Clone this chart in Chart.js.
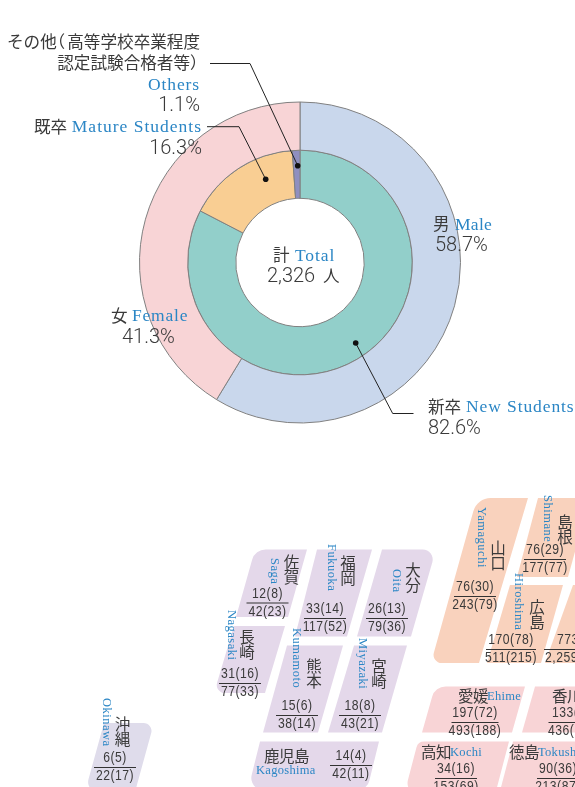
<!DOCTYPE html>
<html>
<head>
<meta charset="utf-8">
<title>入学者</title>
<script src="https://cdn.jsdelivr.net/npm/chart.js@4/dist/chart.umd.js"></script>
<style>
  html, body { margin: 0; padding: 0; background: #fff; }
  canvas { display: block; }
</style>
</head>
<body>
<canvas id="chart" width="575" height="787"></canvas>
<script>
// ドーナツの値 (%)
const genderLabels = ['男 Male', '女 Female'];
const genderValues = [58.7, 41.3];
const courseLabels = ['新卒 New Students', '既卒 Mature Students', 'その他 Others'];
const courseValues = [82.6, 16.3, 1.1];

// 都道府県ごとの値 : 合格者(女) / 受験者(女)
// 画面の外で切れて読めない値は null
const prefNames = ['佐賀', '福岡', '大分', '長崎', '熊本', '宮崎', '鹿児島', '沖縄', '山口', '島根', '広島', '', '愛媛', '香川', '高知', '徳島'];
const prefEnglish = ['Saga', 'Fukuoka', 'Oita', 'Nagasaki', 'Kumamoto', 'Miyazaki', 'Kagoshima', 'Okinawa', 'Yamaguchi', 'Shimane', 'Hiroshima', '', 'Ehime', '', 'Kochi', 'Tokushima'];
const passed = [12, 33, 26, 31, 15, 18, 14, 6, 76, 76, 170, 773, 197, 133, 34, 90];
const passedWomen = [8, 14, 13, 16, 6, 8, 4, 5, 30, 29, 78, null, 72, null, 16, 36];
const applicants = [42, 117, 79, 77, 38, 43, 42, 22, 243, 177, 511, 2259, 493, 436, 153, 213];
const applicantsWomen = [23, 52, 36, 33, 14, 21, 11, 17, 79, 77, 215, null, 188, null, 69, 87];

const JP = '"Noto Sans CJK JP", sans-serif';
const EN = '"Liberation Serif", serif';
const NUM = '"Roboto", sans-serif';
const FRAC = '"Liberation Sans", sans-serif';
const INK = '#3a3a3a';
const BLUE = '#2b86c5';

const KYUSHU = '#e4d8ea';
const OKINAWA = '#dfdceb';
const CHUGOKU = '#f9d2bd';
const SHIKOKU = '#f8d4d6';

// 地図タイルの配置 (配列と同じ順番)
// shape: [上左x, 上右x, 上y, 下左x, 下右x, 下y], r: [上左, 上右, 下右, 下左]
// name/en: [x, y, 'v'縦 or 'h'横], frac: [中心x, 線y, 線幅, 数字の左端(上), 数字の左端(下)]
const tileLayout = [
  { color: KYUSHU, shape: [255, 307, 549.5, 236, 288, 617], r: [14, 0, 0, 0], name: [291.5, 562, 'v'], en: [274, 558, 'v'], frac: [267.5, 602.5, 42] },
  { color: KYUSHU, shape: [317, 372, 549.5, 295, 347, 636.5], r: [0, 0, 0, 0], name: [348, 563, 'v'], en: [331, 544, 'v'], frac: [325, 618, 42] },
  { color: KYUSHU, shape: [382, 436, 549.5, 357, 411, 636.5], r: [0, 10, 0, 0], name: [413, 570, 'v'], en: [396, 569, 'v'], frac: [387, 618, 42] },
  { color: KYUSHU, shape: [234, 285, 626, 214, 265, 693], r: [0, 0, 0, 8], name: [247, 637, 'v'], en: [231, 610, 'v'], frac: [240, 683, 42] },
  { color: KYUSHU, shape: [287, 343, 645.5, 263, 318, 732.5], r: [0, 0, 0, 0], name: [314, 666, 'v'], en: [296, 628, 'v'], frac: [297, 715, 42] },
  { color: KYUSHU, shape: [354, 407, 645.5, 328, 382, 732.5], r: [0, 0, 0, 0], name: [379, 666, 'v'], en: [362, 638, 'v'], frac: [360, 715, 42] },
  { color: KYUSHU, shape: [260, 379, 741.5, 248, 367, 790], r: [0, 0, 12, 12], name: [264, 756, 'h'], en: [256, 771, 'h'], frac: [351, 765, 42] },
  { color: OKINAWA, shape: [104, 154, 723, 85, 135, 792], r: [0, 8, 0, 10], name: [122.5, 724, 'v'], en: [106, 698, 'v'], frac: [115, 767, 42] },
  { color: CHUGOKU, shape: [477, 528, 498, 431, 479, 663], r: [18, 0, 0, 8], name: [498, 548, 'v'], en: [481, 507, 'v'], frac: [475, 596, 42] },
  { color: CHUGOKU, shape: [538, 590, 498, 517, 568, 577], r: [0, 0, 0, 0], name: [565, 522, 'v'], en: [547, 495, 'v'], frac: [545, 559, 42] },
  { color: CHUGOKU, shape: [510, 563, 585, 487, 541, 663], r: [0, 0, 0, 0], name: [537, 607, 'v'], en: [518, 573, 'v'], frac: [511, 649, 50] },
  { color: CHUGOKU, shape: [573, 640, 585, 545, 612, 663], r: [0, 0, 0, 0], name: [600, 607, 'v'], en: [584, 580, 'v'], frac: [572, 649, 56, 557, 545] },
  { color: SHIKOKU, shape: [435, 525, 686.5, 422, 512, 732.5], r: [14, 0, 0, 0], name: [458, 696, 'h'], en: [487, 697, 'h'], frac: [475, 722, 47] },
  { color: SHIKOKU, shape: [535, 640, 686.5, 522, 627, 732.5], r: [0, 0, 0, 0], name: [552, 696, 'h'], en: [582, 697, 'h'], frac: [572, 722, 47, 552, 548] },
  { color: SHIKOKU, shape: [418, 509, 741.5, 404, 495, 795], r: [8, 0, 0, 12], name: [421, 752, 'h'], en: [450, 753, 'h'], frac: [456, 778, 42] },
  { color: SHIKOKU, shape: [513, 640, 741.5, 499, 626, 795], r: [0, 0, 0, 0], name: [509, 752, 'h'], en: [538, 753, 'h'], frac: [558, 778, 42] }
];

function put(ctx, str, x, y, font, color, align, spacing) {
  ctx.font = font;
  ctx.fillStyle = color;
  ctx.textAlign = align || 'left';
  ctx.textBaseline = 'middle';
  ctx.letterSpacing = (spacing || 0) + 'px';
  ctx.fillText(str, x, y);
  ctx.letterSpacing = '0px';
}

// 分数の数字は細長い書体なので横だけ縮める
function putNarrow(ctx, str, x, y, align) {
  ctx.save();
  ctx.translate(x, y);
  ctx.scale(0.84, 1);
  put(ctx, str, 0, 0, '14.5px ' + FRAC, INK, align, 0.6);
  ctx.restore();
}

function roundedTile(ctx, t) {
  const [tlx, trx, top, blx, brx, bottom] = t.shape;
  const [rtl, rtr, rbr, rbl] = t.r;
  ctx.beginPath();
  ctx.moveTo((tlx + trx) / 2, top);
  ctx.arcTo(trx, top, brx, bottom, rtr);
  ctx.arcTo(brx, bottom, blx, bottom, rbr);
  ctx.arcTo(blx, bottom, tlx, top, rbl);
  ctx.arcTo(tlx, top, trx, top, rtl);
  ctx.closePath();
  ctx.fillStyle = t.color;
  ctx.fill();
}

// 12(8) の形にする。括弧内が読めないときは開き括弧まで
function fracText(n, women) {
  const fmt = v => v >= 1000 ? v.toLocaleString('en-US') : String(v);
  return women === null ? `${fmt(n)}(` : `${fmt(n)}(${fmt(women)})`;
}

function drawPrefTiles(ctx) {
  tileLayout.forEach((t, i) => {
    roundedTile(ctx, t);
    const jpFont = '15.5px ' + JP;
    const enFont = '12.5px ' + EN;
    if (t.name[2] === 'v') {
      // 縦書きは一文字ずつ積む
      Array.from(prefNames[i]).forEach((ch, k) => {
        put(ctx, ch, t.name[0], t.name[1] + k * 15, jpFont, INK, 'center');
      });
      ctx.save();
      ctx.translate(t.en[0], t.en[1]);
      ctx.rotate(Math.PI / 2);
      put(ctx, prefEnglish[i], 0, 0, enFont, BLUE, 'left', 0.5);
      ctx.restore();
    } else {
      put(ctx, prefNames[i], t.name[0], t.name[1], jpFont, INK, 'left', -0.5);
      put(ctx, prefEnglish[i], t.en[0], t.en[1], enFont, BLUE, 'left', 0.3);
    }
    const [cx, lineY, w, leftTop, leftBottom] = t.frac;
    ctx.strokeStyle = '#333';
    ctx.lineWidth = 1;
    ctx.beginPath();
    ctx.moveTo(cx - w / 2, lineY + 0.5);
    ctx.lineTo(cx + w / 2, lineY + 0.5);
    ctx.stroke();
    const top = fracText(passed[i], passedWomen[i]);
    const bottom = fracText(applicants[i], applicantsWomen[i]);
    if (leftTop) {
      putNarrow(ctx, top, leftTop, lineY - 9, 'left');
      putNarrow(ctx, bottom, leftBottom, lineY + 9, 'left');
    } else {
      putNarrow(ctx, top, cx, lineY - 9, 'center');
      putNarrow(ctx, bottom, cx, lineY + 9, 'center');
    }
  });
}

function drawDonutLabels(ctx) {
  const jp = '16.6px ' + JP;
  const en = '17.5px ' + EN;
  const pct = '300 20px ' + NUM;

  put(ctx, 'その他', 7, 42, jp, INK);
  put(ctx, '（', 65, 42, jp, INK, 'right');
  put(ctx, '高等学校卒業程度', 200, 42, jp, INK, 'right');
  put(ctx, '認定試験合格者等', 190, 63, jp, INK, 'right');
  put(ctx, '）', 190, 63, jp, INK);
  put(ctx, 'Others', 200, 85, en, BLUE, 'right', 0.9);
  put(ctx, '1.1%', 200, 106, pct, INK, 'right');

  put(ctx, '既卒', 34, 127, jp, INK);
  put(ctx, 'Mature Students', 202, 127, en, BLUE, 'right', 1);
  put(ctx, '16.3%', 202, 149, pct, INK, 'right');

  put(ctx, '男', 433, 224, jp, INK);
  put(ctx, 'Male', 455, 225, en, BLUE, 'left', 0.3);
  put(ctx, '58.7%', 435, 246, pct, INK);

  put(ctx, '女', 111, 316, jp, INK);
  put(ctx, 'Female', 132, 316, en, BLUE, 'left', 0.8);
  put(ctx, '41.3%', 122, 338, pct, INK);

  put(ctx, '計', 273, 255, jp, INK);
  put(ctx, 'Total', 295, 256, en, BLUE, 'left', 0.9);
  put(ctx, '2,326', 267, 277, pct, INK);
  put(ctx, '人', 323, 276, jp, INK);

  put(ctx, '新卒', 428, 407, jp, INK);
  put(ctx, 'New Students', 466, 407, en, BLUE, 'left', 0.9);
  put(ctx, '82.6%', 428, 429, pct, INK);
}

function drawLeaders(ctx) {
  const leaders = [
    [[210, 63.5], [250, 63.5], [297.7, 165.7]],
    [[207, 126.7], [239, 126.7], [265.7, 179.3]],
    [[413.5, 413.5], [392.7, 413.5], [355.7, 343]]
  ];
  ctx.strokeStyle = '#222';
  ctx.fillStyle = '#111';
  ctx.lineWidth = 1;
  leaders.forEach(pts => {
    ctx.beginPath();
    pts.forEach((p, k) => k ? ctx.lineTo(p[0], p[1]) : ctx.moveTo(p[0], p[1]));
    ctx.stroke();
    const end = pts[pts.length - 1];
    ctx.beginPath();
    ctx.arc(end[0], end[1], 2.8, 0, Math.PI * 2);
    ctx.fill();
  });
}

const overlay = {
  id: 'overlay',
  afterDraw(chart) {
    const ctx = chart.ctx;
    ctx.save();
    drawPrefTiles(ctx);
    drawLeaders(ctx);
    drawDonutLabels(ctx);
    ctx.restore();
  }
};

new Chart(document.getElementById('chart'), {
  type: 'doughnut',
  data: {
    labels: [...genderLabels, ...courseLabels],
    datasets: [
      {
        data: genderValues,
        backgroundColor: ['#c9d7ec', '#f8d4d6'],
        borderColor: '#808080',
        borderWidth: 1
      },
      {
        data: courseValues,
        backgroundColor: ['#92cfca', '#f9ce93', '#8f8fc0'],
        borderColor: '#808080',
        borderWidth: 1
      }
    ]
  },
  options: {
    responsive: false,
    animation: false,
    cutout: '40%',
    layout: { padding: { left: 139, right: 114, top: 101, bottom: 363 } },
    plugins: { legend: { display: false }, tooltip: { enabled: false } }
  },
  plugins: [overlay]
});
</script>
</body>
</html>
